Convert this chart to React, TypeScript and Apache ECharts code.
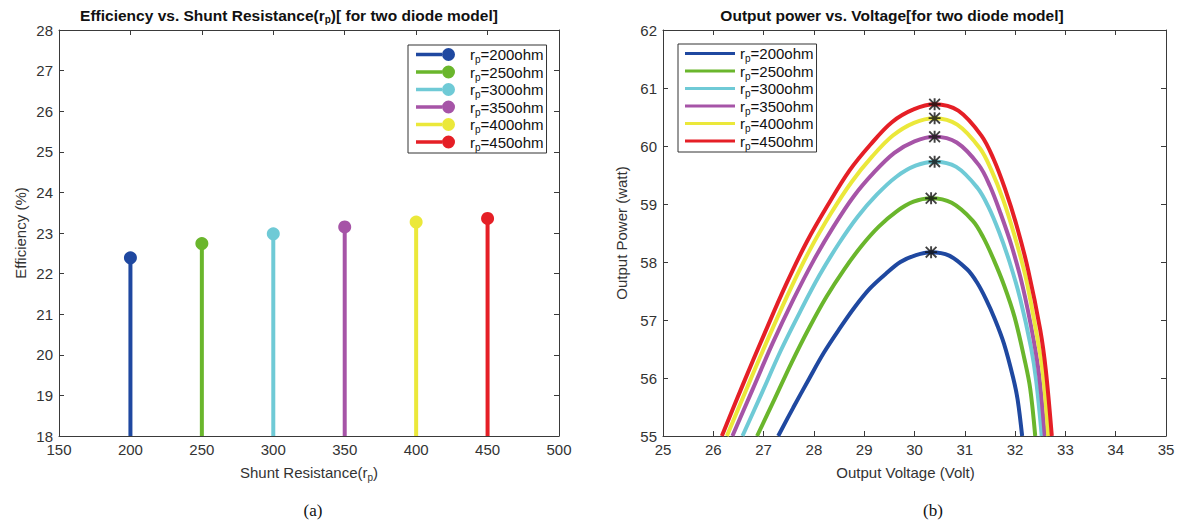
import React, { useEffect, useRef } from "react";
import * as echarts from "echarts";

// ---------- data ----------
const rpValues = [200, 250, 300, 350, 400, 450];
const rpLabels = ["200", "250", "300", "350", "400", "450"];
const efficiency = [22.39, 22.74, 22.98, 23.15, 23.27, 23.36];
const seriesColors = ["#1f48a0", "#6ab62c", "#6fcad6", "#a654a7", "#ebe83a", "#e51f26"];

const effTicks = { min: 18, max: 28, interval: 1 };
const rpTicks = { min: 150, max: 500, interval: 50 };
const voltTicks = { min: 25, max: 35, interval: 1 };
const powerTicks = { min: 55, max: 62, interval: 1 };

// P-V curves [voltage, power]
const curve200 = [
  [27.29, 55.0], [27.59, 55.49], [27.9, 55.98], [28.2, 56.44], [28.51, 56.85], [28.81, 57.22],
  [29.11, 57.54], [29.42, 57.79], [29.72, 58.0], [30.03, 58.12], [30.33, 58.17], [30.69, 58.11],
  [31.05, 57.87], [31.24, 57.65], [31.42, 57.36], [31.6, 57.01], [31.78, 56.59], [31.96, 56.01],
  [32.05, 55.63], [32.14, 55.0],
];
const curve250 = [
  [26.87, 55.0], [27.22, 55.64], [27.56, 56.27], [27.91, 56.87], [28.25, 57.4], [28.6, 57.87],
  [28.95, 58.28], [29.29, 58.61], [29.64, 58.87], [29.98, 59.04], [30.33, 59.1], [30.74, 59.02],
  [31.16, 58.71], [31.37, 58.42], [31.57, 58.05], [31.78, 57.6], [31.99, 57.05], [32.19, 56.31],
  [32.3, 55.82], [32.4, 55.0],
];
const curve300 = [
  [26.58, 55.0], [26.96, 55.73], [27.34, 56.47], [27.73, 57.15], [28.11, 57.77], [28.49, 58.31],
  [28.87, 58.78], [29.25, 59.16], [29.64, 59.47], [30.02, 59.66], [30.4, 59.73], [30.83, 59.64],
  [31.25, 59.28], [31.47, 58.95], [31.68, 58.52], [31.89, 58.0], [32.1, 57.37], [32.32, 56.51],
  [32.42, 55.95], [32.53, 55.0],
];
const curve350 = [
  [26.38, 55.0], [26.78, 55.8], [27.18, 56.6], [27.59, 57.35], [27.99, 58.02], [28.39, 58.61],
  [28.79, 59.13], [29.19, 59.54], [29.6, 59.88], [30.0, 60.08], [30.4, 60.16], [30.84, 60.06],
  [31.28, 59.67], [31.5, 59.31], [31.71, 58.84], [31.93, 58.28], [32.15, 57.58], [32.37, 56.65],
  [32.48, 56.03], [32.59, 55.0],
];
const curve400 = [
  [26.27, 55.0], [26.68, 55.85], [27.1, 56.7], [27.51, 57.49], [27.92, 58.21], [28.34, 58.84],
  [28.75, 59.38], [29.16, 59.82], [29.57, 60.18], [29.99, 60.4], [30.4, 60.48], [30.85, 60.37],
  [31.3, 59.96], [31.53, 59.58], [31.76, 59.08], [31.98, 58.48], [32.21, 57.74], [32.43, 56.75],
  [32.55, 56.1], [32.66, 55.0],
];
const curve450 = [
  [26.17, 55.0], [26.59, 55.89], [27.02, 56.77], [27.44, 57.6], [27.86, 58.35], [28.29, 59.0],
  [28.71, 59.58], [29.13, 60.03], [29.55, 60.41], [29.98, 60.63], [30.4, 60.72], [30.87, 60.61],
  [31.33, 60.18], [31.57, 59.78], [31.8, 59.26], [32.03, 58.63], [32.26, 57.86], [32.5, 56.83],
  [32.61, 56.14], [32.73, 55.0],
];
const curves = [curve200, curve250, curve300, curve350, curve400, curve450];
const peakVoltage = [30.33, 30.33, 30.4, 30.4, 30.4, 30.4];
const peakPower = [58.17, 59.1, 59.73, 60.16, 60.48, 60.72];

// ---------- styling ----------
const FONT = "'Liberation Sans', Arial, sans-serif";
const AX = "#3a3a3a";
const LBL = "#333333";

const subRich = {
  g: { width: 0, fontFamily: FONT },
  a: { fontSize: 15, fontFamily: FONT, color: "#111", verticalAlign: "middle" },
  s: { fontSize: 10, fontFamily: FONT, color: "#111", padding: [10, 0, 0, 0], verticalAlign: "middle" },
};

function axis(extra: any, showLabels: boolean) {
  return {
    type: "value",
    axisLine: { show: true, onZero: false, lineStyle: { color: AX, width: 1 } },
    axisTick: { show: true, inside: true, length: 5, lineStyle: { color: AX } },
    splitLine: { show: false },
    axisLabel: showLabels
      ? { show: true, color: LBL, fontSize: 15, fontFamily: FONT, margin: 6 }
      : { show: false },
    ...extra,
  };
}

const asterisk =
  "path://M4.2 0h1.6v10h-1.6z M0 4.2h10v1.6h-10z M1.1 0L10 8.9L8.9 10L0 1.1z M8.9 0L10 1.1L1.1 10L0 8.9z";
const stemIcon = "path://M0 5.25H26V8.75H0Z M26 7A6.5 6.5 0 1 1 39 7A6.5 6.5 0 1 1 26 7Z";
const lineIcon = "path://M0 0H50V3H0Z";

export default function App() {
  const ref = useRef<HTMLDivElement>(null);

  useEffect(() => {
    const chart = echarts.init(ref.current as HTMLDivElement, null, { renderer: "svg" });

    const leftSeries = rpValues.map((x, i) => ({
      type: "line",
      name: "e" + i,
      xAxisIndex: 0,
      yAxisIndex: 0,
      data: [{ value: [x, effTicks.min], symbol: "none" }, { value: [x, efficiency[i]] }],
      symbol: "circle",
      symbolSize: 13,
      showSymbol: true,
      lineStyle: { width: 4, color: seriesColors[i] },
      itemStyle: { color: seriesColors[i] },
      z: 3,
    }));

    const rightSeries = curves.map((c, i) => ({
      type: "line",
      name: "p" + i,
      xAxisIndex: 2,
      yAxisIndex: 2,
      data: c,
      smooth: 0.35,
      symbol: "none",
      showSymbol: false,
      lineStyle: { width: 4, color: seriesColors[i] },
      itemStyle: { color: seriesColors[i] },
      z: 3,
    }));

    const peaks = {
      type: "scatter",
      name: "peaks",
      xAxisIndex: 2,
      yAxisIndex: 2,
      data: peakVoltage.map((v, i) => [v, peakPower[i]]),
      symbol: asterisk,
      symbolSize: 12,
      itemStyle: { color: "#111" },
      z: 5,
    };

    const legendFormatter = (name: string) => {
      const idx = parseInt(name.slice(1), 10);
      return `{g|}{a|r}{s|p}{a|=${rpLabels[idx]}ohm}`;
    };

    const option = {
      animation: false,
      backgroundColor: "#ffffff",
      grid: [
        { left: 59, top: 30, width: 500, height: 406 },
        { left: 663, top: 30, width: 503, height: 406 },
      ],
      xAxis: [
        axis(
          {
            gridIndex: 0,
            position: "bottom",
            ...rpTicks,
            name: "Shunt Resistance(r{s|p})",
            nameLocation: "middle",
            nameGap: 26,
            nameTextStyle: {
              color: LBL,
              fontSize: 15,
              fontFamily: FONT,
              rich: { s: { fontSize: 10, fontFamily: FONT, color: LBL, padding: [10, 0, 0, 0] } },
            },
          },
          true
        ),
        axis({ gridIndex: 0, position: "top", ...rpTicks }, false),
        axis(
          {
            gridIndex: 1,
            position: "bottom",
            ...voltTicks,
            name: "Output Voltage (Volt)",
            nameLocation: "middle",
            nameGap: 29,
            nameTextStyle: { color: LBL, fontSize: 15, fontFamily: FONT, padding: [0, 18, 0, 0] },
          },
          true
        ),
        axis({ gridIndex: 1, position: "top", ...voltTicks }, false),
      ],
      yAxis: [
        axis(
          {
            gridIndex: 0,
            position: "left",
            ...effTicks,
            name: "Efficiency (%)",
            nameLocation: "middle",
            nameGap: 31,
            nameTextStyle: { color: LBL, fontSize: 15, fontFamily: FONT },
          },
          true
        ),
        axis({ gridIndex: 0, position: "right", ...effTicks }, false),
        axis(
          {
            gridIndex: 1,
            position: "left",
            ...powerTicks,
            name: "Output Power (watt)",
            nameLocation: "middle",
            nameGap: 34,
            nameTextStyle: { color: LBL, fontSize: 15, fontFamily: FONT },
          },
          true
        ),
        axis({ gridIndex: 1, position: "right", ...powerTicks }, false),
      ],
      legend: [
        {
          orient: "vertical",
          left: 408,
          top: 45,
          padding: [2, 3, 1, 8],
          itemGap: 0,
          itemWidth: 39,
          itemHeight: 13,
          borderColor: "#333",
          borderWidth: 1,
          backgroundColor: "#fff",
          selectedMode: false,
          data: rpValues.map((_, i) => ({ name: "e" + i, icon: stemIcon })),
          formatter: legendFormatter,
          textStyle: { rich: { ...subRich, g: { width: 10 } } },
        },
        {
          orient: "vertical",
          left: 678,
          top: 44,
          padding: [2, 3, 1, 7],
          itemGap: 0,
          itemWidth: 50,
          itemHeight: 14,
          borderColor: "#333",
          borderWidth: 1,
          backgroundColor: "#fff",
          selectedMode: false,
          data: rpValues.map((_, i) => ({ name: "p" + i, icon: lineIcon })),
          formatter: legendFormatter,
          textStyle: { rich: subRich },
        },
      ],
      graphic: [
        {
          type: "text",
          x: 289,
          y: 15,
          style: {
            text: "Efficiency vs. Shunt Resistance(r{s|p})[ for two diode model]",
            fontSize: 15.5,
            fontWeight: "bold",
            fontFamily: FONT,
            fill: "#111",
            align: "center",
            verticalAlign: "middle",
            rich: {
              s: { fontSize: 10, fontWeight: "bold", fontFamily: FONT, fill: "#111", padding: [9, 0, 0, 0] },
            },
          },
        },
        {
          type: "text",
          x: 892,
          y: 15,
          style: {
            text: "Output power vs. Voltage[for two diode model]",
            fontSize: 15.5,
            fontWeight: "bold",
            fontFamily: FONT,
            fill: "#111",
            align: "center",
            verticalAlign: "middle",
          },
        },
        {
          type: "text",
          x: 313,
          y: 510,
          style: {
            text: "(a)",
            fontSize: 17,
            fontFamily: "'Liberation Serif', 'Times New Roman', serif",
            fill: "#111",
            align: "center",
            verticalAlign: "middle",
          },
        },
        {
          type: "text",
          x: 933,
          y: 510,
          style: {
            text: "(b)",
            fontSize: 17,
            fontFamily: "'Liberation Serif', 'Times New Roman', serif",
            fill: "#111",
            align: "center",
            verticalAlign: "middle",
          },
        },
      ],
      series: [...leftSeries, ...rightSeries, peaks],
    };

    chart.setOption(option as any);
    return () => chart.dispose();
  }, []);

  return (
    <div
      ref={ref}
      style={{ position: "absolute", left: 0, top: 0, width: 1184, height: 525, background: "#fff" }}
    />
  );
}
